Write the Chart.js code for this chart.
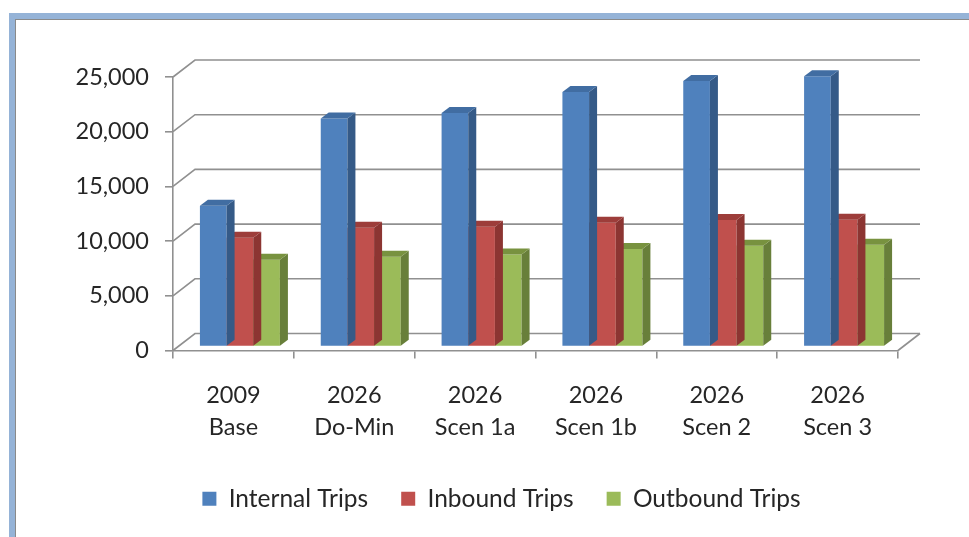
<!DOCTYPE html>
<html>
<head>
<meta charset="utf-8">
<script src="https://cdn.jsdelivr.net/npm/chart.js@4"></script>
<style>
  html, body { margin: 0; padding: 0; background: #fff; overflow: hidden; }
  #frame {
    position: absolute; left: 9px; top: 13px; width: 1000px; height: 600px;
    border-left: 6px solid #95b3d7; border-top: 6px solid #95b3d7;
  }
  #inner {
    position: absolute; left: 0; top: 0; width: 990px; height: 590px;
    border-left: 1px solid #8a8a8a; border-top: 1px solid #8a8a8a;
  }
  #wrap { position: absolute; left: 17px; top: 20px; width: 969px; height: 548px; }
</style>
</head>
<body>
<div id="frame"><div id="inner"></div></div>
<div id="wrap"><canvas id="tripsChart"></canvas></div>
<script>
const scenarios = [['2009', 'Base'], ['2026', 'Do-Min'], ['2026', 'Scen 1a'], ['2026', 'Scen 1b'], ['2026', 'Scen 2'], ['2026', 'Scen 3']];
const internalTrips = [12870, 20830, 21350, 23270, 24270, 24700];
const inboundTrips = [9950, 10860, 10950, 11310, 11560, 11590];
const outboundTrips = [7940, 8210, 8420, 8910, 9220, 9310];
const yTicks = [0, 5000, 10000, 15000, 20000, 25000];

// 3D look: back wall offset, bar shift into the box, bar depth
const DX = 22, DY = -17;
const BX = 6.5, BY = -4;
const SX = 8, SY = -6;
const GRID = '#909090';

const faceColors = [
    { side: '#355a87', top: '#416da2' },
    { side: '#8c3532', top: '#9d3d3a' },
    { side: '#687f3a', top: '#78923f' }
];

const box3d = {
    id: 'box3d',
    beforeDatasetsDraw(chart) {
        const ctx = chart.ctx;
        const area = chart.chartArea;
        const y = chart.scales.y;
        ctx.save();
        ctx.strokeStyle = GRID;
        ctx.lineWidth = 1.6;
        yTicks.forEach(v => {
            const py = y.getPixelForValue(v);
            ctx.beginPath();
            ctx.moveTo(area.left, py);
            ctx.lineTo(area.left + DX, py + DY);
            ctx.lineTo(area.right + DX, py + DY);
            ctx.stroke();
        });
        // right edge of the floor
        ctx.beginPath();
        ctx.moveTo(area.right, area.bottom);
        ctx.lineTo(area.right + DX, area.bottom + DY);
        ctx.stroke();
        ctx.restore();
    },
    beforeDatasetDraw(chart) {
        chart.ctx.save();
        chart.ctx.translate(BX, BY);
    },
    afterDatasetDraw(chart, args) {
        const ctx = chart.ctx;
        const fc = faceColors[args.index];
        args.meta.data.forEach(bar => {
            const p = bar.getProps(['x', 'y', 'base', 'width'], true);
            const l = p.x - p.width / 2, r = p.x + p.width / 2;
            ctx.fillStyle = fc.side;
            ctx.beginPath();
            ctx.moveTo(r, p.y);
            ctx.lineTo(r + SX, p.y + SY);
            ctx.lineTo(r + SX, p.base + SY);
            ctx.lineTo(r, p.base);
            ctx.closePath();
            ctx.fill();
            ctx.fillStyle = fc.top;
            ctx.beginPath();
            ctx.moveTo(l, p.y);
            ctx.lineTo(l + SX, p.y + SY);
            ctx.lineTo(r + SX, p.y + SY);
            ctx.lineTo(r, p.y);
            ctx.closePath();
            ctx.fill();
        });
        ctx.restore();
    }
};

Chart.defaults.font.family = 'Lato, "Open Sans", sans-serif';
Chart.defaults.font.size = 23.5;
Chart.defaults.color = '#262626';

new Chart(document.getElementById('tripsChart'), {
    type: 'bar',
    data: {
        labels: scenarios,
        datasets: [
            { label: 'Internal Trips', data: internalTrips, backgroundColor: '#4f81bd' },
            { label: 'Inbound Trips', data: inboundTrips, backgroundColor: '#c0504d' },
            { label: 'Outbound Trips', data: outboundTrips, backgroundColor: '#9bbb59' }
        ]
    },
    options: {
        responsive: true,
        maintainAspectRatio: false,
        animation: false,
        layout: { padding: { top: 57, right: 0, left: 0, bottom: 47 } },
        datasets: { bar: { barPercentage: 1, categoryPercentage: 0.662, clip: false } },
        plugins: {
            tooltip: { enabled: false },
            legend: {
                position: 'bottom',
                labels: { boxWidth: 14, boxHeight: 14, padding: 33, color: '#262626', font: { size: 24.5 } }
            }
        },
        scales: {
            x: {
                grid: { drawOnChartArea: false, tickLength: 8, color: GRID, lineWidth: 1.6 },
                border: { color: GRID, width: 1.6 },
                ticks: { padding: 20, maxRotation: 0, font: { lineHeight: 1.4 } },
                afterFit(scale) { scale.height = 103; }
            },
            y: {
                min: 0,
                max: 25000,
                grid: { drawOnChartArea: false, tickLength: 8, color: GRID, lineWidth: 1.6 },
                border: { color: GRID, width: 1.6 },
                ticks: {
                    stepSize: 5000,
                    padding: 16,
                    callback: v => v.toLocaleString('en-US')
                },
                afterFit(scale) { scale.width = 156; }
            },
            // empty right-hand space for the back wall, keeps the legend centred on the frame
            spacer: {
                type: 'linear',
                position: 'right',
                grid: { display: false },
                border: { display: false },
                ticks: { display: false },
                afterFit(scale) { scale.width = 88; }
            }
        }
    },
    plugins: [box3d]
});
</script>
</body>
</html>
